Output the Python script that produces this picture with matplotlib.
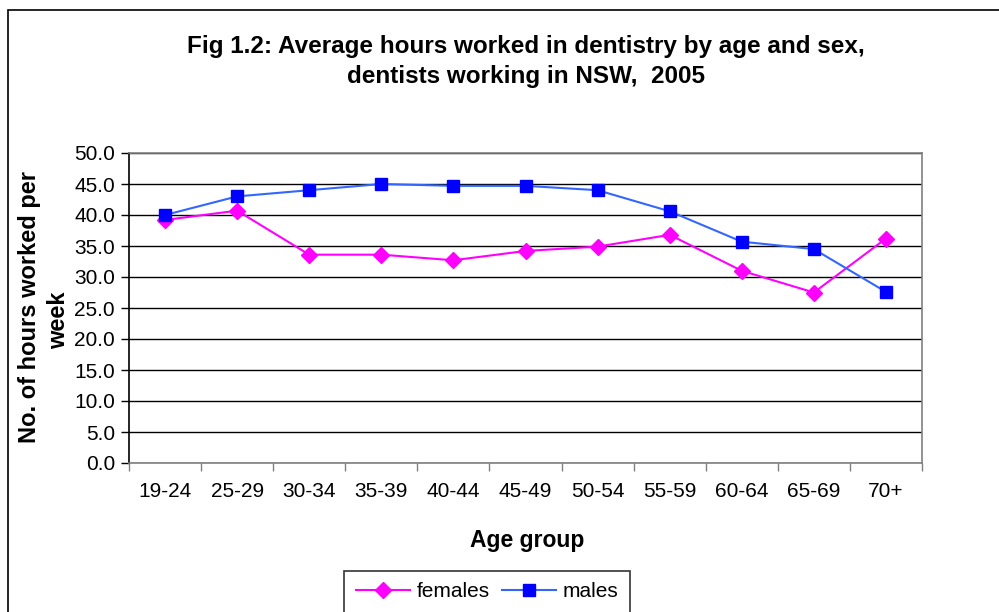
import matplotlib
matplotlib.use("Agg")
import matplotlib.pyplot as plt
from matplotlib.patches import Rectangle
import numpy as np

plt.rcParams['font.family'] = ['Liberation Sans', 'DejaVu Sans']

age_groups = ["19-24", "25-29", "30-34", "35-39", "40-44", "45-49",
              "50-54", "55-59", "60-64", "65-69", "70+"]
females = [39.2, 40.7, 33.6, 33.6, 32.7, 34.2, 34.9, 36.8, 31.0, 27.5, 36.2]
males = [40.0, 43.0, 44.0, 45.0, 44.7, 44.7, 44.0, 40.6, 35.7, 34.5, 27.6]
yticks = [0, 5, 10, 15, 20, 25, 30, 35, 40, 45, 50]

fig = plt.figure(figsize=(9.99, 6.12), dpi=100)
ax = fig.add_axes([129/999, 1-463/612, (922-129)/999, (463-153)/612])

x = np.arange(len(age_groups))
ax.plot(x, females, color='#FF00FF', lw=1.5, marker='D', markersize=8,
        markerfacecolor='#FF00FF', markeredgecolor='#FF00FF', label='females', zorder=3)
ax.plot(x, males, color='#3366FF', lw=1.5, marker='s', markersize=8.5,
        markerfacecolor='#0000FF', markeredgecolor='#0000FF', label='males', zorder=3)

ax.set_xlim(-0.5, len(age_groups) - 0.5)
ax.set_ylim(0, 50)
ax.set_yticks(yticks)
ax.set_yticklabels([f"{v:.1f}" for v in yticks])
ax.set_xticks(x)
ax.set_xticklabels(age_groups)
ax.set_xticks(np.arange(-0.5, len(age_groups), 1.0), minor=True)
ax.tick_params(axis='x', which='major', length=0, pad=14, labelsize=15)
ax.tick_params(axis='x', which='minor', length=6, color='#808080', width=1, direction='out')
ax.tick_params(axis='y', which='major', length=6, width=1, color='black', direction='out',
               pad=4, labelsize=15)

ax.yaxis.grid(True, color='black', lw=1)
ax.set_axisbelow(True)
for s in ['top', 'right', 'bottom']:
    ax.spines[s].set_color('#808080')
    ax.spines[s].set_linewidth(1.2)
ax.spines['left'].set_color('black')
ax.spines['left'].set_linewidth(1.2)

fig.text(527/999, 1-540/612, "Age group", ha='center', va='center',
         fontsize=16.5, fontweight='bold')
fig.text(30/999, 1-307/612, "No. of hours worked per", ha='center', va='center',
         rotation=90, fontsize=17, fontweight='bold')
fig.text(59/999, 1-320/612, "week", ha='center', va='center',
         rotation=90, fontsize=17, fontweight='bold')

fig.text(526/999, 1-47/612, "Fig 1.2: Average hours worked in dentistry by age and sex,",
         ha='center', va='center', fontsize=17.5, fontweight='bold')
fig.text(526/999, 1-77/612, "dentists working in NSW,  2005",
         ha='center', va='center', fontsize=17.5, fontweight='bold')

# outer chart border
fig.patches.append(Rectangle((8/999, -0.1), 1.2, 1-10/612+0.1, transform=fig.transFigure,
                             fill=False, edgecolor='black', lw=1.2))

leg = fig.legend(loc='upper center', bbox_to_anchor=(487/999, 1-571/612), ncol=2,
                 fontsize=15, frameon=True, fancybox=False, edgecolor='black',
                 handlelength=2.6, columnspacing=0.6, handletextpad=0.3,
                 borderpad=0.55, borderaxespad=0)
leg.get_frame().set_linewidth(1.2)

fig.savefig("out.png", dpi=100)
